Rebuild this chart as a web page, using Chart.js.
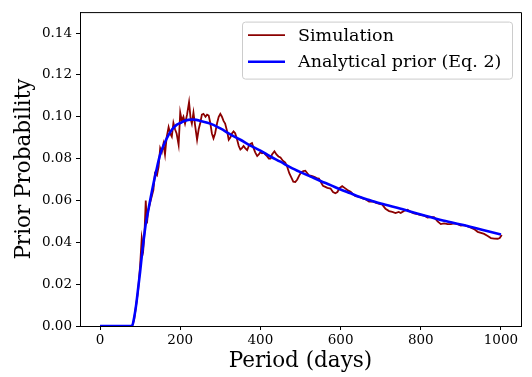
<!DOCTYPE html>
<html>
<head>
<meta charset="utf-8">
<script src="https://cdn.jsdelivr.net/npm/chart.js@4"></script>
<style>
  html, body { margin: 0; padding: 0; background: #fff; }
  #wrap { width: 532px; height: 377px; }
</style>
</head>
<body>
<div id="wrap"><canvas id="canvas" width="532" height="377"></canvas></div>
<script>
// values
const simDays = [0, 80, 85, 90, 95, 100, 104, 108, 111, 114, 117, 120, 125, 129, 133, 137, 142, 146, 150, 154,
  158, 162, 166, 171, 175, 179, 183, 187, 191, 196, 200, 204, 208, 212, 217, 222, 226, 229, 233, 237,
  242, 246, 250, 254, 258, 263, 267, 271, 275, 279, 283, 287, 292, 296, 300, 304, 308, 312, 317, 321,
  325, 329, 333, 337, 342, 346, 350, 354, 358, 362, 367, 371, 375, 379, 383, 387, 392, 396, 400, 404,
  408, 412, 417, 421, 425, 429, 435, 440, 445, 450, 456, 462, 467, 472, 477, 482, 487, 492, 497, 502,
  507, 512, 517, 521, 525, 531, 537, 542, 546, 550, 556, 562, 567, 575, 581, 587, 592, 598, 604, 610,
  617, 625, 631, 637, 646, 655, 663, 671, 680, 687, 695, 704, 712, 721, 729, 737, 745, 750, 758, 767,
  775, 783, 792, 800, 808, 817, 825, 833, 842, 850, 858, 867, 875, 883, 892, 900, 908, 917, 925, 933,
  942, 950, 958, 967, 975, 983, 992, 997, 1002];
const simProb = [0, 0, 0.003, 0.010, 0.017, 0.029, 0.042, 0.037, 0.045, 0.060, 0.049, 0.055, 0.059, 0.062, 0.065, 0.073, 0.072, 0.076, 0.085, 0.083,
  0.087, 0.082, 0.090, 0.095, 0.092, 0.0905, 0.097, 0.094, 0.092, 0.0866, 0.102, 0.098, 0.100, 0.0967, 0.101, 0.107, 0.099, 0.0967, 0.102, 0.096,
  0.089, 0.094, 0.097, 0.101, 0.1014, 0.100, 0.101, 0.1006, 0.097, 0.092, 0.0897, 0.092, 0.097, 0.100, 0.1014, 0.100, 0.098, 0.0967, 0.093, 0.089,
  0.090, 0.092, 0.093, 0.0921, 0.089, 0.086, 0.0843, 0.085, 0.086, 0.085, 0.084, 0.086, 0.087, 0.0874, 0.085, 0.083, 0.0812, 0.082, 0.083, 0.0825,
  0.0828, 0.082, 0.081, 0.080, 0.080, 0.082, 0.0835, 0.082, 0.081, 0.0805, 0.079, 0.0781, 0.076, 0.073, 0.071, 0.069, 0.0688, 0.070, 0.072, 0.0735,
  0.074, 0.0742, 0.073, 0.072, 0.0719, 0.0715, 0.071, 0.0705, 0.0704, 0.069, 0.067, 0.0665, 0.066, 0.0657, 0.064, 0.0634, 0.064, 0.066, 0.0668, 0.066,
  0.065, 0.0642, 0.063, 0.062, 0.0618, 0.061, 0.0605, 0.0595, 0.0595, 0.059, 0.0585, 0.058, 0.056, 0.0549, 0.0545, 0.054, 0.0545, 0.054, 0.055, 0.0556,
  0.0545, 0.0538, 0.0535, 0.053, 0.0528, 0.0518, 0.052, 0.052, 0.050, 0.0487, 0.049, 0.0487, 0.0487, 0.049, 0.0487, 0.048, 0.0482, 0.0476, 0.047, 0.0463,
  0.045, 0.0445, 0.044, 0.043, 0.042, 0.0418, 0.0417, 0.042, 0.0435];

const priorDays = [0, 80, 85, 90, 95, 100, 105, 110, 115, 120, 130, 140, 150, 160, 170, 180, 190, 200, 210, 220,
  230, 240, 250, 275, 300, 325, 350, 375, 400, 425, 450, 475, 500, 525, 550, 575, 600, 625, 650, 675,
  700, 750, 800, 850, 900, 950, 1000];
const priorProb = [0, 0, 0.004, 0.010, 0.018, 0.026, 0.035, 0.043, 0.050, 0.055, 0.065, 0.074, 0.082, 0.087, 0.091, 0.094, 0.096, 0.097, 0.098, 0.0985,
  0.0987, 0.0985, 0.098, 0.0967, 0.0944, 0.0916, 0.089, 0.0862, 0.0838, 0.081, 0.0785, 0.0758, 0.0735, 0.0714, 0.0693, 0.0673, 0.0652, 0.0634, 0.0615, 0.060,
  0.0585, 0.056, 0.0533, 0.0507, 0.0485, 0.0461, 0.0437];

const seriesNames = ['Simulation', 'Analytical prior (Eq. 2)'];
const seriesColors = ['#8b0000', '#0000ff'];
const xTicks = [0, 200, 400, 600, 800, 1000];
const yTicks = [0, 0.02, 0.04, 0.06, 0.08, 0.10, 0.12, 0.14];

const serif = "'DejaVu Serif', serif";

function toPoints(xs, ys) {
  return xs.map((x, i) => ({x: x, y: ys[i]}));
}

// matplotlib style frame: top and right spines + legend box inside the axes
const framePlugin = {
  id: 'frame',
  afterDraw(chart) {
    const ctx = chart.ctx;
    const a = chart.chartArea;
    ctx.save();
    ctx.strokeStyle = '#000';
    ctx.lineWidth = 1;
    ctx.beginPath();
    ctx.moveTo(a.left, a.top + 0.5);
    ctx.lineTo(a.right + 0.5, a.top + 0.5);
    ctx.lineTo(a.right + 0.5, a.bottom);
    ctx.stroke();

    // legend
    const w = 270, h = 57;
    const bx = a.right - 9 - w, by = a.top + 9.5;
    ctx.fillStyle = 'rgba(255,255,255,0.8)';
    ctx.strokeStyle = '#cccccc';
    ctx.beginPath();
    ctx.roundRect(bx + 0.5, by + 0.5, w, h, 3);
    ctx.fill();
    ctx.stroke();
    ctx.font = '17.5px ' + serif;
    ctx.textBaseline = 'middle';
    ctx.textAlign = 'left';
    seriesNames.forEach((name, i) => {
      const y = by + 13.5 + i * 26.6;
      ctx.strokeStyle = seriesColors[i];
      ctx.lineWidth = i === 0 ? 1.8 : 2.5;
      ctx.beginPath();
      ctx.moveTo(bx + 6, y);
      ctx.lineTo(bx + 43, y);
      ctx.stroke();
      ctx.fillStyle = '#000';
      ctx.fillText(name, bx + 56, y + 1);
    });
    ctx.restore();
  }
};

const ctx = document.getElementById('canvas').getContext('2d');
const chart = new Chart(ctx, {
  type: 'line',
  data: {
    datasets: [
      {label: seriesNames[0], data: toPoints(simDays, simProb), borderColor: seriesColors[0],
       borderWidth: 1.8, pointRadius: 0, tension: 0, order: 2},
      {label: seriesNames[1], data: toPoints(priorDays, priorProb), borderColor: seriesColors[1],
       borderWidth: 2.6, pointRadius: 0, cubicInterpolationMode: 'monotone', order: 1}
    ]
  },
  options: {
    responsive: false,
    animation: false,
    layout: {padding: {top: 4, right: 11, left: 0, bottom: 0}},
    plugins: {legend: {display: false}, tooltip: {enabled: false}},
    scales: {
      x: {
        type: 'linear', min: -50, max: 1050,
        afterBuildTicks: (s) => { s.ticks = xTicks.map(v => ({value: v})); },
        afterFit: (s) => { s.height = 51; },
        grid: {drawOnChartArea: false, drawTicks: true, tickLength: 4, color: '#000'},
        border: {color: '#000', width: 1},
        ticks: {color: '#000', padding: 2, maxRotation: 0, font: {family: serif, size: 13.5, lineHeight: 1.2},
                callback: (v) => String(v)},
        title: {display: true, text: 'Period (days)', color: '#000',
                font: {family: serif, size: 21.5, lineHeight: 1.2}, padding: {top: 0, bottom: 3}}
      },
      y: {
        type: 'linear', min: 0, max: 0.15,
        afterBuildTicks: (s) => { s.ticks = yTicks.map(v => ({value: v})); },
        afterFit: (s) => { s.width = 80; },
        grid: {drawOnChartArea: false, drawTicks: true, tickLength: 4, color: '#000'},
        border: {color: '#000', width: 1},
        ticks: {color: '#000', padding: 4, font: {family: serif, size: 13.5, lineHeight: 1.2},
                callback: (v) => v.toFixed(2)},
        title: {display: true, text: 'Prior Probability', color: '#000',
                font: {family: serif, size: 21.5, lineHeight: 1.2}, padding: {top: 12, bottom: 0}}
      }
    }
  },
  plugins: [framePlugin]
});
</script>
</body>
</html>
